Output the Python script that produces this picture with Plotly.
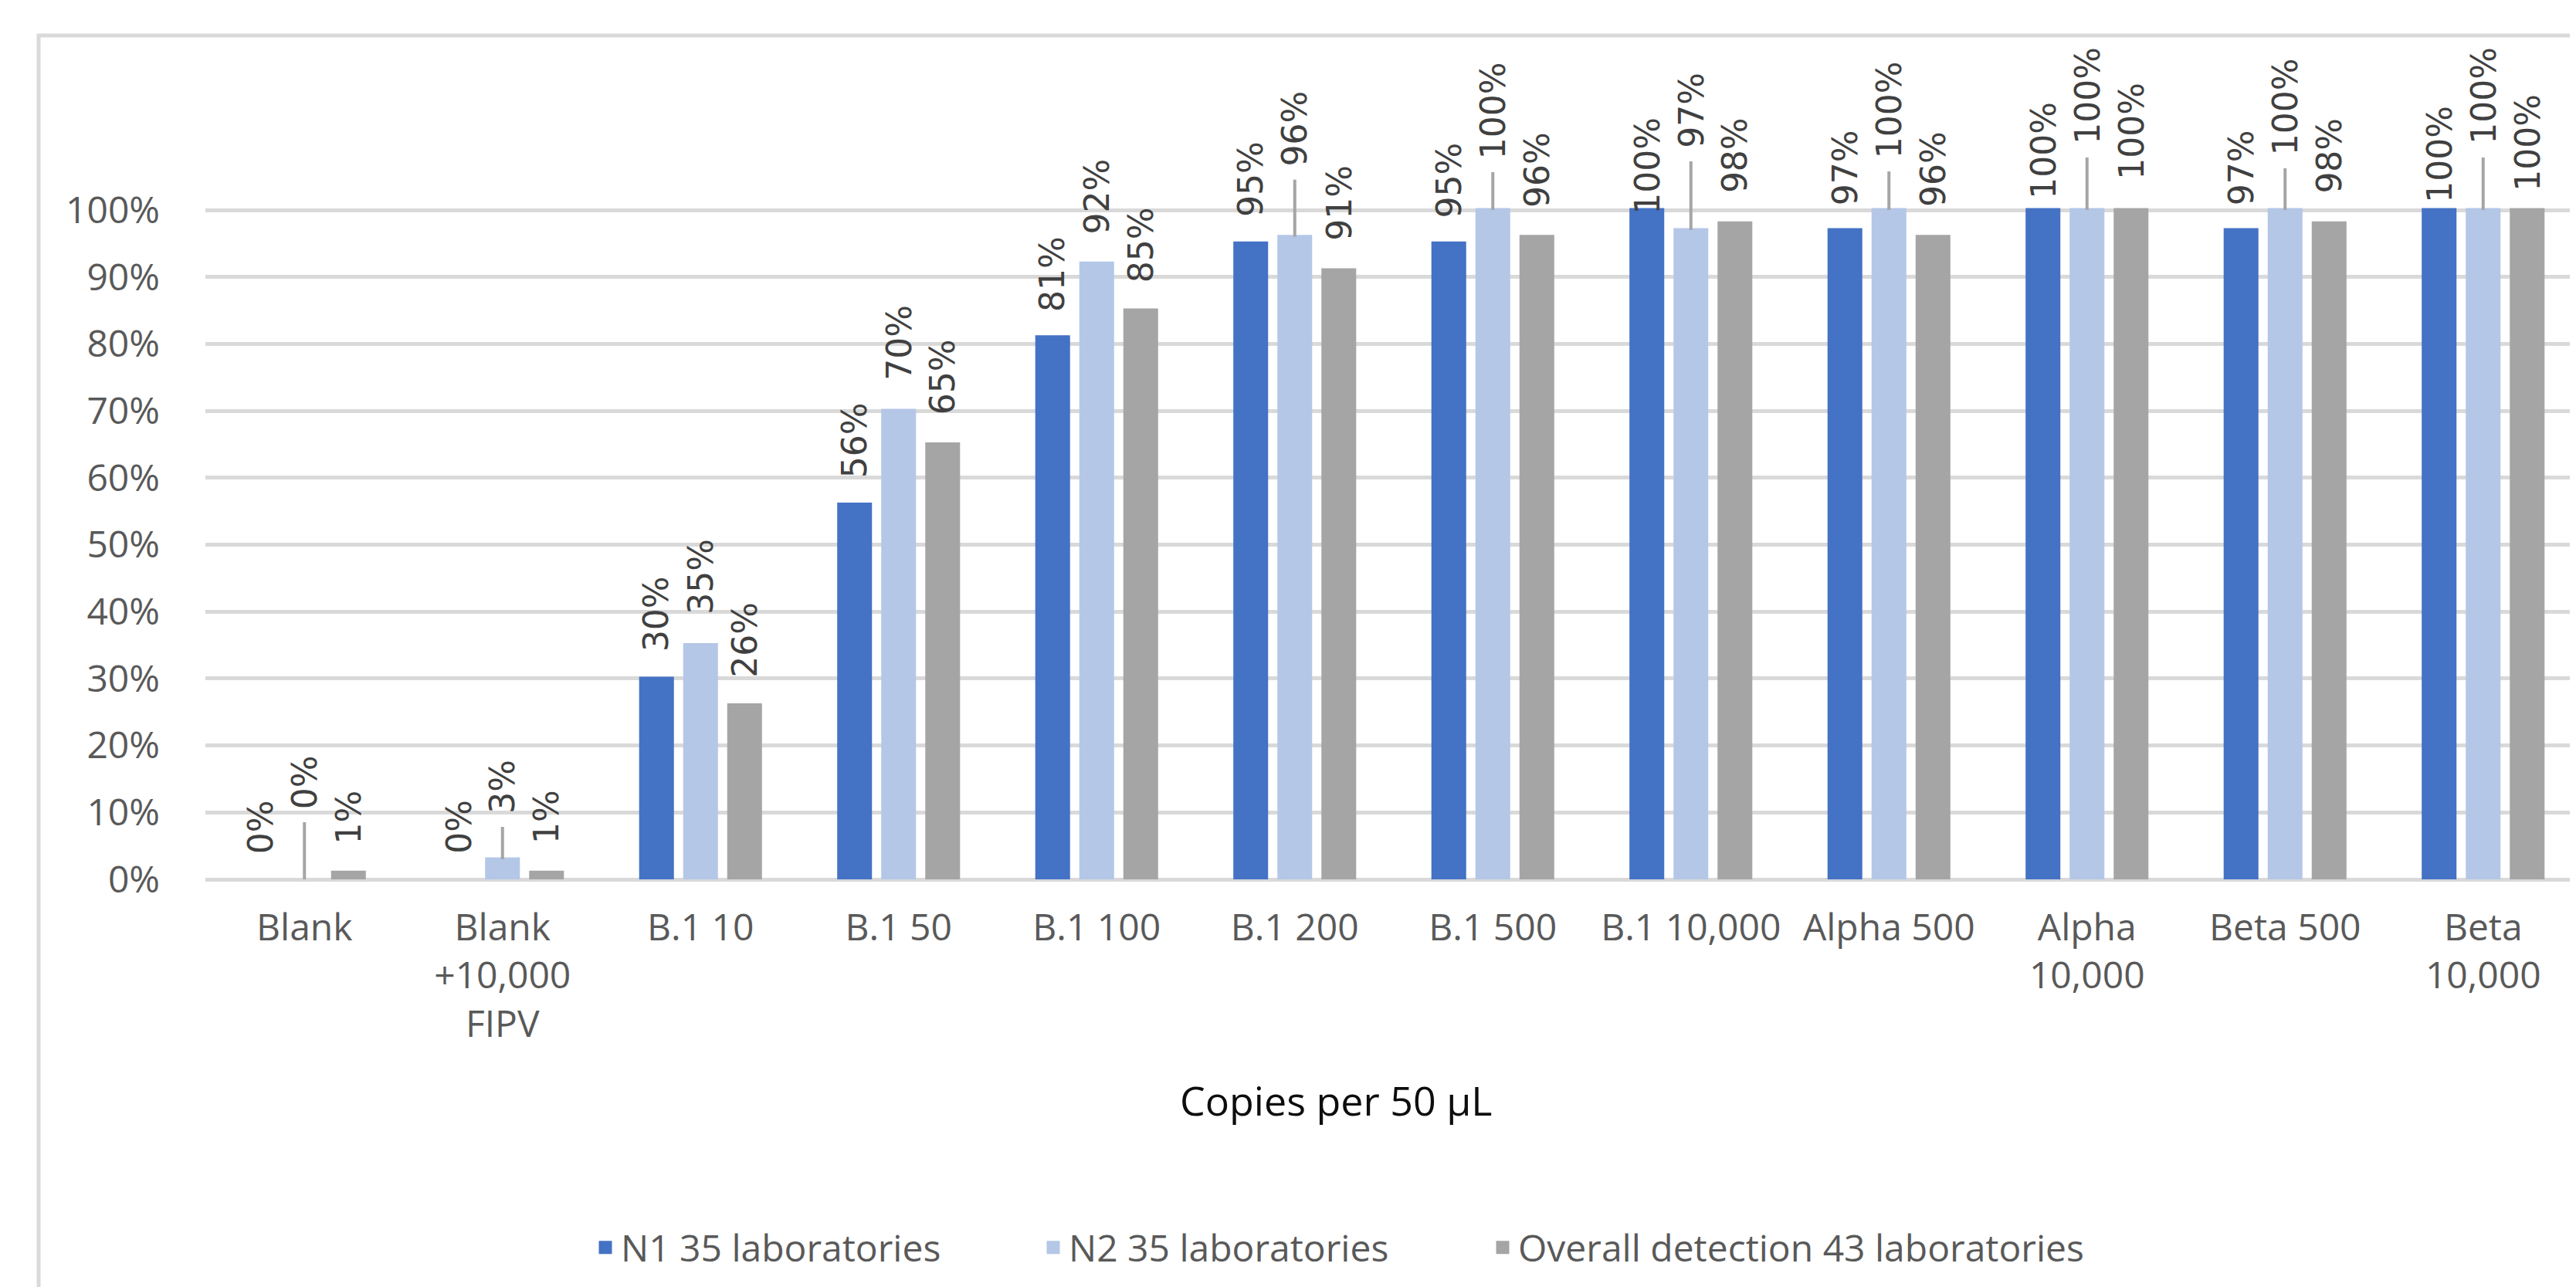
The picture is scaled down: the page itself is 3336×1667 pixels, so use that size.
import plotly.graph_objects as go

# ---------------- data ----------------
categories = ["Blank", "Blank<br>+10,000<br>FIPV", "B.1 10", "B.1 50", "B.1 100",
              "B.1 200", "B.1 500", "B.1 10,000", "Alpha 500", "Alpha<br>10,000",
              "Beta 500", "Beta<br>10,000"]
n1_pct = [0, 0, 30, 56, 81, 95, 95, 100, 97, 100, 97, 100]
n2_pct = [0, 3, 35, 70, 92, 96, 100, 97, 100, 100, 100, 100]
overall_pct = [1, 1, 26, 65, 85, 91, 96, 98, 96, 100, 98, 100]
series_names = ["N1 35 laboratories", "N2 35 laboratories",
                "Overall detection 43 laboratories"]
y_tick_vals = [0, 10, 20, 30, 40, 50, 60, 70, 80, 90, 100]
y_tick_text = ["0%", "10%", "20%", "30%", "40%", "50%", "60%", "70%", "80%", "90%", "100%"]
x_title = "Copies per 50 µL"

# ---------------- style ----------------
colors = ["#4472C4", "#B4C7E7", "#A5A5A5"]
W, H = 3336, 1667
ML, MR = 258, 0
PLOT_TOP_PX, Y100_PX, Y0_PX = 40, 264, 1131
MT, MB = PLOT_TOP_PX, H - Y0_PX
PW, PH = W - ML - MR, H - MT - MB
Y_MAX = 100 * PH / (Y0_PX - Y100_PX)     # so that 100% sits at Y100_PX
BARGAP, BARGROUPGAP = 0.333, 0.298
BAR_LINE = 5
# label distance (px) between bar top and label (style, per category)
n1_label_gap = [35, 35, 37, 36, 35, 36, 35, -4, 34, 16, 34, 11]
n2_label_gap = [93, 61, 42, 41, 40, 93, 68, 108, 69, 87, 73, 87]
ov_label_gap = [39, 39, 38, 40, 38, 40, 40, 41, 41, 41, 41, 26]
LABEL_PAD = 4
LEADER_MIN = 55
LEADER_GAP = 19
legend_text_left = [805, 1385, 1967]
LEGEND_TEXT_OFFSET = 49
label_font = dict(family="DejaVu Sans", size=44, color="#404040")
axis_font = dict(family="Open Sans", size=48, color="#595959")


def px_x(px):
    return (px - ML) / PW


def px_y(py):
    return (H - MB - py) / PH


fig = go.Figure()
legend_ids = ["legend", "legend2", "legend3"]
for name, vals, col, lg in zip(series_names, [n1_pct, n2_pct, overall_pct], colors, legend_ids):
    # fed last-category-first so the legend swatch takes a non-empty bar's outline
    xs = categories[::-1]
    ys = vals[::-1]
    lw = [BAR_LINE if v > 0 else 0 for v in ys]
    fig.add_trace(go.Bar(x=xs, y=ys, name=name, marker_color=col,
                         marker_line_width=lw, marker_line_color=col,
                         legend=lg))

slot = (1 - BARGAP) / 3          # offset of a side bar, in category units
annotations = []
shapes = []
for i, cat in enumerate(categories):
    for xoff, v, g in ((-slot, n1_pct[i], n1_label_gap[i]),
                       (0.0, n2_pct[i], n2_label_gap[i]),
                       (slot, overall_pct[i], ov_label_gap[i])):
        annotations.append(dict(x=i + xoff, y=v, xref="x", yref="y",
                                text=f"{v}%", textangle=-90, showarrow=False,
                                xanchor="center", yanchor="bottom",
                                yshift=g - LABEL_PAD, font=label_font))
    g = n2_label_gap[i]
    if g > LEADER_MIN:
        shapes.append(dict(type="line", xref="x", yref="y", x0=i, x1=i,
                           ysizemode="pixel", yanchor=n2_pct[i], y0=0,
                           y1=g - LEADER_GAP,
                           line=dict(color="#A5A5A5", width=4), layer="above"))

# axis title as annotation (centered on the whole chart area)
annotations.append(dict(x=px_x(1722), y=px_y(1416), xref="paper", yref="paper",
                        text=x_title, showarrow=False, xanchor="center", yanchor="middle",
                        font=dict(family="Open Sans", size=52, color="#0D0D0D")))

# chart-area border (right and bottom edges fall outside the picture)
shapes.append(dict(type="rect", xref="paper", yref="paper",
                   x0=px_x(42), y0=px_y(38), x1=px_x(3420), y1=px_y(1720),
                   line=dict(color="#D9D9D9", width=5), fillcolor="rgba(0,0,0,0)",
                   layer="below"))

legend_common = dict(orientation="h", xanchor="left", y=px_y(1608), yanchor="middle",
                     font=axis_font, bgcolor="rgba(0,0,0,0)")
fig.update_layout(
    width=W, height=H,
    margin=dict(l=ML, r=MR, t=MT, b=MB, pad=0),
    paper_bgcolor="white", plot_bgcolor="white",
    barmode="group", bargap=BARGAP, bargroupgap=BARGROUPGAP,
    annotations=annotations,
    shapes=shapes,
    showlegend=True,
    legend=dict(x=px_x(legend_text_left[0] - LEGEND_TEXT_OFFSET), **legend_common),
    legend2=dict(x=px_x(legend_text_left[1] - LEGEND_TEXT_OFFSET), **legend_common),
    legend3=dict(x=px_x(legend_text_left[2] - LEGEND_TEXT_OFFSET), **legend_common),
)
fig.update_xaxes(type="category", categoryorder="array", categoryarray=categories,
                 showgrid=False, showline=False, zeroline=False,
                 ticks="", tickfont=axis_font, ticklabelstandoff=30,
                 range=[-0.5, len(categories) - 0.5])
fig.update_yaxes(range=[0, Y_MAX], tickvals=y_tick_vals, ticktext=y_tick_text,
                 showgrid=True, gridcolor="#D9D9D9", gridwidth=5,
                 zeroline=True, zerolinecolor="#D9D9D9", zerolinewidth=5,
                 showline=False, ticks="", tickfont=axis_font, ticklabelstandoff=58)

fig.write_html("out.html")
